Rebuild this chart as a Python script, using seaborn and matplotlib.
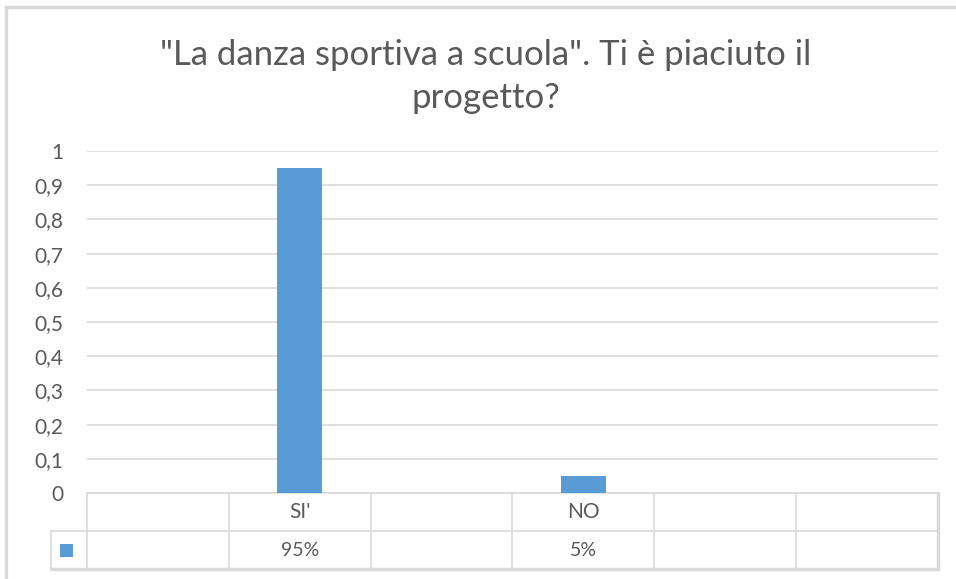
import matplotlib
matplotlib.use("Agg")
import matplotlib.pyplot as plt
import matplotlib.transforms as mtransforms
from matplotlib.patches import Rectangle
import seaborn as sns
import pandas as pd

# ---- data ----
slots = ["", "SI'", "", "NO", "", ""]
categories = ["SI'", "NO"]
values = [0.95, 0.05]
yticks = [0, 0.1, 0.2, 0.3, 0.4, 0.5, 0.6, 0.7, 0.8, 0.9, 1]
ytick_labels = ["0", "0,1", "0,2", "0,3", "0,4", "0,5", "0,6", "0,7", "0,8", "0,9", "1"]
title = "\"La danza sportiva a scuola\". Ti è piaciuto il\nprogetto?"

BLUE = "#5b9bd5"
GRID = "#d9d9d9"
TXT = "#595959"

sns.set_theme(style="white")
plt.rcParams["font.family"] = ["Lato", "DejaVu Sans"]

W, H = 956, 579
fig = plt.figure(figsize=(W / 100, H / 100), dpi=100)
ax = fig.add_axes([87 / W, (H - 493) / H, (938 - 87) / W, (493 - 151) / H])

# unique slot keys so empty columns stay separate
keys = [s if s else " " * (i + 1) for i, s in enumerate(slots)]
key_of = {s: k for s, k in zip(slots, keys) if s}
df = pd.DataFrame({"cat": [key_of[c] for c in categories], "val": values})
sns.barplot(data=df, x="cat", y="val", order=keys, color=BLUE, width=0.316,
            saturation=1, linewidth=0, ax=ax, zorder=3)

ax.set_xlim(-0.5, len(slots) - 0.5)
ax.set_ylim(0, 1)
ax.set_yticks(yticks)
ax.set_yticklabels(ytick_labels, color=TXT, fontsize=15)
ax.tick_params(axis="y", length=0, pad=17)
ax.set_xticks([])
ax.set_xlabel("")
ax.set_ylabel("")
for s in ax.spines.values():
    s.set_visible(False)
ax.yaxis.grid(True, color=GRID, linewidth=1.2)
ax.set_axisbelow(True)

# ---- data table below the axis ----
n = len(slots)
tr = mtransforms.blended_transform_factory(ax.transData, fig.transFigure)
def fy(p):
    return (H - p) / H
y0, y1, y2 = fy(493), fy(531), fy(569)
xl = -0.5 - (87 - 51) / ((938 - 87) / n)  # legend column left edge in data units
kw = dict(color=GRID, linewidth=1.2, transform=tr, clip_on=False)
ax.plot([-0.5, n - 0.5], [y0, y0], **kw)
ax.plot([xl, n - 0.5], [y1, y1], **kw)
ax.plot([xl, n - 0.5], [y2, y2], color=GRID, linewidth=2.5, transform=tr, clip_on=False)
for i in range(n + 1):
    x = i - 0.5
    ax.plot([x, x], [y0, y2], color=GRID, linewidth=2.5 if i == n else 1.2,
            transform=tr, clip_on=False)
ax.plot([xl, xl], [y1, y2], **kw)

for i, s in enumerate(slots):
    if s:
        ax.text(i, fy(512), s, ha="center", va="center", fontsize=15, color=TXT,
                transform=tr, clip_on=False)
        v = values[categories.index(s)]
        ax.text(i, fy(550), f"{round(v * 100)}%", ha="center", va="center",
                fontsize=14, color=TXT, transform=tr, clip_on=False)

fig.patches.append(Rectangle((60 / W, fy(557)), 13 / W, 13 / H, transform=fig.transFigure,
                             facecolor=BLUE, edgecolor="none"))

# outer frame lines
fig.add_artist(plt.Line2D([6 / W, 6 / W], [0, fy(7)], color="#d9d9d9", linewidth=2.5,
                          transform=fig.transFigure))
fig.add_artist(plt.Line2D([6 / W, 1], [fy(7), fy(7)], color="#d9d9d9", linewidth=2.5,
                          transform=fig.transFigure))

fig.text(486 / W, fy(55), title.split("\n")[0], ha="center", va="center", fontsize=25,
         color=TXT, fontweight="normal")
fig.text(486 / W, fy(98), title.split("\n")[1], ha="center", va="center", fontsize=25,
         color=TXT, fontweight="normal")

fig.savefig("out.png", dpi=100, facecolor="white")
